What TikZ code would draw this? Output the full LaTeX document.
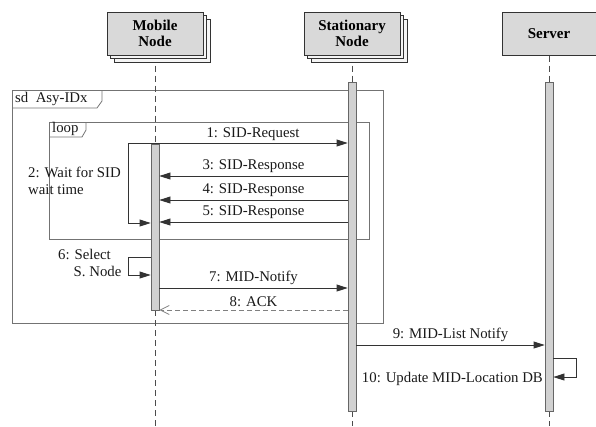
\documentclass[tikz,border=0pt]{standalone}
\usepackage{fontspec}
\setmainfont{Liberation Serif}
\usetikzlibrary{arrows.meta,backgrounds}

\begin{document}
\begin{tikzpicture}[x=1pt,y=-1pt,
    obj/.style={draw=black!80,line width=1,fill=black!15,minimum width=96pt,
      minimum height=43pt,inner sep=0,align=center,
      font=\bfseries\fontsize{15}{16.5}\selectfont},
    shade/.style={obj,fill=black!4},
    bar/.style={draw=black!60,line width=0.8,fill=black!18,minimum width=8pt,inner sep=0},
    lifeline/.style={draw=black!70,line width=0.8,dash pattern=on 6pt off 4pt},
    frame/.style={draw=black!55,line width=0.8},
    msg/.style={draw=black!80,line width=0.8,-{Triangle[length=11pt,width=7pt]}},
    reply/.style={draw=black!50,line width=0.8,dash pattern=on 5pt off 3pt,
      -{Straight Barb[length=9pt,width=9pt]}},
    lbl/.style={inner sep=0,text=black!90,font=\fontsize{14.8}{17}\selectfont}]

    \useasboundingbox (0,0) rectangle (596,426);

    \node[shade] (mobile3) at (162,40.5) {};
    \node[shade] (mobile2) at (158.5,37) {};
    \node[obj] (mobile) at (155,33.5) {Mobile\\Node};

    \node[shade] (stat3) at (359,40.5) {};
    \node[shade] (stat2) at (355.5,37) {};
    \node[obj] (stat) at (352,33.5) {Stationary\\Node};

    \node[obj,minimum width=94pt] (server) at (549,33.5) {Server};

    \node[bar,minimum height=166pt] (mbar) at (155,227) {};
    \node[bar,minimum height=329pt] (sbar) at (352,246.5) {};
    \node[bar,minimum height=329pt] (vbar) at (549,246.5) {};

    \coordinate (mend) at (155,426);
    \coordinate (send) at (352,426);
    \coordinate (vend) at (549,426);

    \begin{scope}[on background layer]

      \draw[frame] (12,90) rectangle (383,323);
      \draw[frame] (102,90) -- (102,101) -- (97,108) -- (12,108);
      \node[lbl,anchor=west] (sdlbl) at (15,99) {sd\ \ Asy-IDx};

      \draw[frame] (49,122) rectangle (369,239);
      \draw[frame] (86,122) -- (86,130) -- (82,137) -- (49,137);
      \node[lbl,anchor=west] (looplbl) at (52,129) {loop};

      \draw[lifeline] (mobile.south) -- (mbar.north);
      \draw[lifeline] (mbar.south) -- (mend);
      \draw[lifeline] (stat.south) -- (sbar.north);
      \draw[lifeline] (sbar.south) -- (send);
      \draw[lifeline] (server.south) -- (vbar.north);
      \draw[lifeline] (vbar.south) -- (vend);

    \end{scope}

    \coordinate (w1) at (128,143);
    \coordinate (w2) at (128,223);
    \draw[msg] (w1) -- (sbar.west |- w1);
    \node[lbl] (l1) at (253,134) {1: SID-Request};
    \draw[msg] (w1) -- (w2) -- (mbar.west |- w2);
    \node[lbl,anchor=west,align=left] (l2) at (28,181) {2: Wait for SID\\wait time};

    \coordinate (r3) at (sbar.west |- 0,176);
    \coordinate (r4) at (sbar.west |- 0,200);
    \coordinate (r5) at (sbar.west |- 0,222);
    \draw[msg] (r3) -- node[lbl,above=3pt] (l3) {3: SID-Response} (mbar.east |- r3);
    \draw[msg] (r4) -- node[lbl,above=3pt] (l4) {4: SID-Response} (mbar.east |- r4);
    \draw[msg] (r5) -- node[lbl,above=3pt] (l5) {5: SID-Response} (mbar.east |- r5);

    \coordinate (s6) at (mbar.west |- 0,257);
    \coordinate (s6b) at (mbar.west |- 0,275);
    \draw[msg] (s6) -- (128,257) -- (128,275) -- (s6b);
    \node[lbl,anchor=north west,align=left] (l6) at (58,249) {6: Select\\\hspace*{1.05em}S. Node};

    \coordinate (n7) at (mbar.east |- 0,288);
    \draw[msg] (n7) -- node[lbl,above=3pt] (l7) {7: MID-Notify} (sbar.west |- n7);

    \coordinate (a8) at (sbar.west |- 0,310);
    \draw[reply] (a8) -- node[lbl,above=3pt] (l8) {8: ACK} (mbar.east |- a8);

    \coordinate (n9) at (sbar.east |- 0,345);
    \draw[msg] (n9) -- node[lbl,above=3pt] (l9) {9: MID-List Notify} (vbar.west |- n9);

    \coordinate (u10) at (vbar.east |- 0,358);
    \coordinate (u10b) at (vbar.east |- 0,377);
    \draw[msg] (u10) -- (576,358) -- (576,377) -- (u10b);
    \node[lbl,anchor=east] (l10) at (543,379) {10: Update MID-Location DB};

\end{tikzpicture}
\end{document}
